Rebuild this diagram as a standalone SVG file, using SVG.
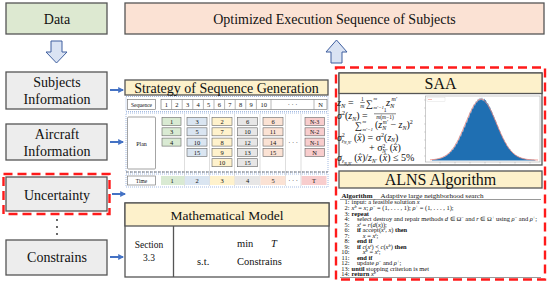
<svg xmlns="http://www.w3.org/2000/svg" width="550" height="287" viewBox="0 0 550 287">
<defs>
<style>
.t{font-family:"Liberation Serif","Times New Roman",serif;fill:#111}
.box{stroke:#555;stroke-width:1.3px}
.cell{stroke:#666;stroke-width:0.6px}
.dot{fill:none;stroke:#8eaadb;stroke-width:0.8px;stroke-dasharray:1px 1px}
.sep{stroke:#c8c8c8;stroke-width:0.6px}
.red{fill:none;stroke:#ff1a1a;stroke-width:2.4px;stroke-dasharray:9px 5px}
.hol{fill:#dae3f3;stroke:#3f5f9f;stroke-width:1px}
.ba{stroke:#4472c4;stroke-width:2px}
.c{text-anchor:middle}
.i{font-style:italic}
.m{font-family:"Liberation Serif","DejaVu Serif",serif;fill:#111}
.al{font-family:"Liberation Serif","Times New Roman",serif;fill:#111;font-size:6.1px}
.sp{font-size:4.2px}
</style>
<marker id="ah" viewBox="0 0 10 10" refX="8" refY="5" markerWidth="3" markerHeight="3" orient="auto"><path d="M0,0 L10,5 L0,10 z" fill="#4472c4"/></marker>
</defs>
<rect width="550" height="287" fill="#fff"/>

<!-- left column -->
<g id="data"><rect class="box" x="6" y="3" width="101" height="31" fill="#dde9d1"/><text class="t c" x="57" y="24" font-size="14">Data</text></g>
<g id="arrow-down"><path class="hol" d="M51,41 H62 V52 H67 L56.5,63 L46,52 H51 Z"/></g>
<g id="subjects"><rect class="box" x="6" y="72" width="101" height="37" fill="#ededed"/><text class="t c" x="57" y="87" font-size="14">Subjects</text><text class="t c" x="57" y="104" font-size="14">Information</text></g>
<g id="aircraft"><rect class="box" x="6" y="124" width="101" height="36" fill="#ededed"/><text class="t c" x="57" y="139" font-size="14">Aircraft</text><text class="t c" x="57" y="156" font-size="14">Information</text></g>
<g id="uncertainty"><rect class="box" x="6" y="177" width="101" height="34" fill="#ededed"/><rect class="red" x="3.5" y="174" width="106" height="40"/><text class="t c" x="57" y="200" font-size="14">Uncertainty</text></g>
<g id="dots"><circle cx="57" cy="220" r="0.9" fill="#222"/><circle cx="57" cy="227" r="0.9" fill="#222"/><circle cx="57" cy="234" r="0.9" fill="#222"/></g>
<g id="constrains"><rect class="box" x="6" y="240" width="101" height="35" fill="#ededed"/><text class="t c" x="57" y="262" font-size="14">Constrains</text></g>

<!-- top -->
<g id="output"><rect class="box" x="125" y="3" width="419" height="31" fill="#fbe2d4"/><text class="t c" x="334.5" y="24" font-size="14">Optimized Execution Sequence of Subjects</text></g>
<g id="arrow-up"><path class="hol" d="M331,63 H342 V52 H347 L336.5,40 L326,52 H331 Z"/></g>

<!-- connectors -->
<g id="connectors">
<line class="ba" x1="110" y1="90" x2="123" y2="90" marker-end="url(#ah)"/>
<line class="ba" x1="110" y1="142" x2="123" y2="142" marker-end="url(#ah)"/>
<line class="ba" x1="112" y1="194" x2="125" y2="194" marker-end="url(#ah)"/>
<line class="ba" x1="110" y1="257" x2="123" y2="257" marker-end="url(#ah)"/>
</g>

<!-- strategy -->
<g id="strategy">
<rect class="box" x="125" y="80" width="203" height="15" fill="#fdf1cb"/>
<text class="t c" x="226.5" y="92.5" font-size="14">Strategy of Sequence Generation</text>
<rect class="dot" x="126" y="96.5" width="202" height="15"/>
<rect class="dot" x="126" y="113" width="202" height="59"/>
<rect class="dot" x="126" y="174" width="202" height="13"/>
<rect class="cell" x="127.5" y="99.5" width="28" height="10" fill="#fff"/>
<text class="t c" x="141.5" y="107" font-size="5.5">Sequence</text>
<rect class="cell" x="161" y="99.5" width="166" height="10" fill="#fff"/>
<g stroke="#888" stroke-width="0.6">
<line x1="171.6" y1="99.5" x2="171.6" y2="109.5"/><line x1="182.2" y1="99.5" x2="182.2" y2="109.5"/><line x1="192.8" y1="99.5" x2="192.8" y2="109.5"/><line x1="203.4" y1="99.5" x2="203.4" y2="109.5"/><line x1="214" y1="99.5" x2="214" y2="109.5"/><line x1="224.6" y1="99.5" x2="224.6" y2="109.5"/><line x1="235.2" y1="99.5" x2="235.2" y2="109.5"/><line x1="245.8" y1="99.5" x2="245.8" y2="109.5"/><line x1="256.4" y1="99.5" x2="256.4" y2="109.5"/><line x1="271" y1="99.5" x2="271" y2="109.5"/><line x1="314" y1="99.5" x2="314" y2="109.5"/>
</g>
<g class="t c" font-size="6.5">
<text x="166.3" y="107">1</text><text x="176.9" y="107">2</text><text x="187.5" y="107">3</text><text x="198.1" y="107">4</text><text x="208.7" y="107">5</text><text x="219.3" y="107">6</text><text x="229.9" y="107">7</text><text x="240.5" y="107">8</text><text x="251.1" y="107">9</text><text x="263.7" y="107">10</text><text x="292.5" y="107">· · ·</text><text x="320.5" y="107">N</text>
</g>
<!-- separators -->
<g class="sep"><line x1="184.5" y1="114" x2="184.5" y2="186"/><line x1="209.5" y1="114" x2="209.5" y2="186"/><line x1="234.5" y1="114" x2="234.5" y2="186"/><line x1="260" y1="114" x2="260" y2="186"/><line x1="285.5" y1="114" x2="285.5" y2="186"/><line x1="301" y1="114" x2="301" y2="186"/></g>
<rect class="cell" x="127.5" y="117" width="28" height="52" rx="1" fill="#fff"/>
<text class="t c" x="141.5" y="145.5" font-size="6">Plan</text>
<!-- plan cells -->
<g class="cell" fill="#d9ead3"><rect x="162" y="117.5" width="19" height="8"/><rect x="162" y="127.8" width="19" height="8"/><rect x="162" y="138.1" width="19" height="8"/></g>
<g class="cell" fill="#dae5f1"><rect x="187" y="117.5" width="20" height="8"/><rect x="187" y="127.8" width="20" height="8"/><rect x="187" y="138.1" width="20" height="8"/><rect x="187" y="148.4" width="20" height="8"/></g>
<g class="cell" fill="#fff2cc"><rect x="212" y="117.5" width="20" height="8"/><rect x="212" y="127.8" width="20" height="8"/><rect x="212" y="138.1" width="20" height="8"/><rect x="212" y="148.4" width="20" height="8"/><rect x="212" y="158.7" width="20" height="8"/></g>
<g class="cell" fill="#e7e6e6"><rect x="237.5" y="117.5" width="20" height="8"/><rect x="237.5" y="127.8" width="20" height="8"/><rect x="237.5" y="138.1" width="20" height="8"/><rect x="237.5" y="148.4" width="20" height="8"/><rect x="237.5" y="158.7" width="20" height="8"/></g>
<g class="cell" fill="#fbe2d4"><rect x="263" y="117.5" width="20" height="8"/><rect x="263" y="127.8" width="20" height="8"/><rect x="263" y="138.1" width="20" height="8"/><rect x="263" y="148.4" width="20" height="8"/></g>
<g class="cell" fill="#f8cdcd"><rect x="305" y="117.5" width="19.5" height="8"/><rect x="305" y="127.8" width="19.5" height="8"/><rect x="305" y="138.1" width="19.5" height="8"/><rect x="305" y="148.4" width="19.5" height="8"/></g>
<g class="t c" font-size="6.5">
<text x="171.5" y="124">1</text><text x="171.5" y="134.3">3</text><text x="171.5" y="144.6">4</text>
<text x="197" y="124">3</text><text x="197" y="134.3">5</text><text x="197" y="144.6">10</text><text x="197" y="154.9">15</text>
<text x="222" y="124">2</text><text x="222" y="134.3">7</text><text x="222" y="144.6">8</text><text x="222" y="154.9">9</text><text x="222" y="165.2">10</text>
<text x="247.5" y="124">6</text><text x="247.5" y="134.3">10</text><text x="247.5" y="144.6">12</text><text x="247.5" y="154.9">13</text><text x="247.5" y="165.2">15</text>
<text x="273" y="124">6</text><text x="273" y="134.3">11</text><text x="273" y="144.6">14</text><text x="273" y="154.9">15</text>
<text x="293" y="145">· · ·</text>
<text x="314.7" y="124" font-size="6">N-3</text><text x="314.7" y="134.3" font-size="6">N-2</text><text x="314.7" y="144.6" font-size="6">N-1</text><text x="314.7" y="154.9">N</text>
</g>
<line x1="126" y1="172" x2="328" y2="172" stroke="#555" stroke-width="0.8" stroke-dasharray="2.5 1.5"/>
<rect class="cell" x="127.5" y="176" width="28" height="9" fill="#fff"/>
<text class="t c" x="141.5" y="183" font-size="5.5">Time</text>
<rect x="161" y="176" width="23.5" height="9" fill="#d9ead3"/>
<rect x="185" y="176" width="24.5" height="9" fill="#dae5f1"/>
<rect x="210" y="176" width="24.5" height="9" fill="#fff2cc"/>
<rect x="235" y="176" width="25" height="9" fill="#e7e6e6"/>
<rect x="260.5" y="176" width="25" height="9" fill="#fbe2d4"/>
<rect x="301.5" y="176" width="25" height="9" fill="#f8cdcd"/>
<g class="t c" font-size="6.5"><text x="172" y="183">1</text><text x="197" y="183">2</text><text x="222" y="183">3</text><text x="247.5" y="183">4</text><text x="273" y="183">5</text><text x="293" y="183">· · ·</text><text x="314" y="183">T</text></g>
</g>

<!-- math model -->
<g id="math-model">
<rect class="box" x="125" y="203" width="204" height="74" fill="#fff"/>
<rect class="box" x="125" y="203" width="204" height="23" fill="#fdf1cb"/>
<line class="box" x1="173.5" y1="226" x2="173.5" y2="277"/>
<text class="t c" x="227" y="219.5" font-size="13.5">Mathematical Model</text>
<text class="t c" x="149" y="248" font-size="9.5">Section</text>
<text class="t c" x="149" y="261" font-size="9.5">3.3</text>
<text class="t" x="237" y="247" font-size="10.5">min</text>
<text class="t i" x="271" y="247" font-size="10.5">T</text>
<text class="t" x="197" y="265" font-size="10.5">s.t.</text>
<text class="t" x="237" y="265" font-size="10.5">Constrains</text>
</g>

<!-- SAA -->
<g id="saa">
<rect class="box" x="339" y="73" width="203" height="92" fill="#fff"/>
<rect class="box" x="339" y="73" width="203" height="20.5" fill="#fdf1cb"/>
<text class="t c" x="440.5" y="89" font-size="16">SAA</text>
<!-- formulas -->
<g class="m">
<text x="337" y="106" font-size="10.5" class="i">z<tspan font-size="6.5" dy="2">N</tspan><tspan font-style="normal" dy="-2" font-size="10"> =</tspan></text>
<text x="361" y="101" font-size="5.5">1</text><line x1="360.3" y1="102.5" x2="364.8" y2="102.5" stroke="#111" stroke-width="0.5"/><text x="360.3" y="107.5" font-size="5.5" class="i">m</text>
<text x="366" y="107" font-size="10">∑</text>
<text x="373.5" y="100" font-size="5" class="i">m</text><text x="373.5" y="108.5" font-size="5" class="i">m′=1</text>
<text x="386" y="106" font-size="10.5" class="i">z<tspan font-size="6.5" dy="2">N</tspan></text>
<text x="391.5" y="100.5" font-size="6" class="i">m′</text>

<text x="337" y="118.5" font-size="10" class="i">σ<tspan font-size="6" dy="-4" font-style="normal">2</tspan><tspan dy="4" font-style="normal">(</tspan>z<tspan font-size="6" dy="2">N</tspan><tspan dy="-2" font-style="normal">) =</tspan></text>
<text x="385" y="112.3" font-size="5.5" text-anchor="middle">1</text><line x1="374" y1="113.8" x2="396" y2="113.8" stroke="#111" stroke-width="0.5"/><text x="385" y="118.8" font-size="5.5" text-anchor="middle" class="i">m<tspan font-style="normal">(</tspan>m<tspan font-style="normal">−1)</tspan></text>

<text x="355" y="129" font-size="10">∑</text>
<text x="362.5" y="123.2" font-size="5" class="i">m</text><text x="362.5" y="130.5" font-size="5" class="i">m′=1</text>
<text x="375" y="128" font-size="10">(<tspan class="i">z</tspan><tspan font-size="6" dy="2" class="i">N</tspan><tspan font-size="5.5" dx="-3.5" dy="-6.5" class="i">m′</tspan><tspan dy="4.5"> − </tspan><tspan class="i">z</tspan><tspan font-size="6" dy="2" class="i">N</tspan><tspan dy="-2">)</tspan><tspan font-size="6" dy="-4">2</tspan></text>

<text x="337" y="140.5" font-size="10" class="i">σ<tspan font-size="5.5" dy="-4" font-style="normal">2</tspan><tspan font-size="5.5" dx="-3" dy="6">ε</tspan><tspan font-size="4.2" dy="1.5">N,N′</tspan><tspan dy="-3.5" font-style="normal"> (</tspan>x̂<tspan font-style="normal">) = σ</tspan><tspan font-size="6" dy="-4" font-style="normal">2</tspan><tspan dy="4" font-style="normal">(</tspan>z<tspan font-size="5.5" dy="1.5">N</tspan><tspan dy="-1.5" font-style="normal">)</tspan></text>
<text x="369" y="151" font-size="10" class="i"><tspan font-style="normal">+ σ</tspan><tspan font-size="5.5" dy="-3.5" font-style="normal">2</tspan><tspan font-size="5.5" dx="-3" dy="5.5">N′</tspan><tspan dy="-2" font-style="normal"> (</tspan>x̂<tspan font-style="normal">)</tspan></text>
<text x="337" y="161" font-size="10" class="i">σ<tspan font-size="5.5" dy="2">ε</tspan><tspan font-size="4.2" dy="1.5">N,N′</tspan><tspan dy="-3.5" font-style="normal"> (</tspan>x̂<tspan font-style="normal">)/</tspan>z<tspan font-size="5.5" dy="2">N′</tspan><tspan dy="-2" font-style="normal"> (</tspan>x̂<tspan font-style="normal">) ≤ 5%</tspan></text>
</g>
<!-- histogram -->
<g id="histogram">
<rect x="425.5" y="96" width="114.5" height="66" fill="#fff" stroke="#999" stroke-width="0.5"/>
<g stroke="#999" stroke-width="0.4">
<line x1="424" y1="100" x2="425.5" y2="100"/><line x1="424" y1="108" x2="425.5" y2="108"/><line x1="424" y1="116" x2="425.5" y2="116"/><line x1="424" y1="124" x2="425.5" y2="124"/><line x1="424" y1="132" x2="425.5" y2="132"/><line x1="424" y1="140" x2="425.5" y2="140"/><line x1="424" y1="148" x2="425.5" y2="148"/><line x1="424" y1="156" x2="425.5" y2="156"/>
<line x1="440" y1="162" x2="440" y2="163.5"/><line x1="455" y1="162" x2="455" y2="163.5"/><line x1="470" y1="162" x2="470" y2="163.5"/><line x1="485" y1="162" x2="485" y2="163.5"/><line x1="500" y1="162" x2="500" y2="163.5"/><line x1="515" y1="162" x2="515" y2="163.5"/><line x1="530" y1="162" x2="530" y2="163.5"/>
</g>
<polygon fill="#1f6fb2" points="432,160.5 432,159.4 433,159.8 434,159.3 435,159.6 436,159.0 437,159.3 438,158.6 439,158.9 440,157.9 441,158.5 442,157.2 443,157.8 444,156.2 445,156.9 446,155.0 447,155.8 448,153.4 449,154.4 450,151.5 451,152.6 452,149.0 453,150.5 454,146.4 455,147.8 456,143.0 457,144.8 458,139.5 459,140.8 460,135.0 461,136.9 462,130.8 463,132.5 464,126.0 465,127.9 466,121.0 467,123.5 468,116.5 469,118.4 470,111.5 471,113.8 472,107.5 473,109.6 474,103.8 475,105.9 476,100.8 477,103.0 478,98.5 479,101.2 480,97.6 481,100.5 482,97.2 483,101.4 484,98.6 485,100.0 486,100.5 487,103.4 488,103.2 489,106.2 490,107.0 491,110.0 492,111.4 493,114.8 494,116.3 495,119.4 496,121.0 497,124.6 498,126.0 499,129.4 500,130.6 501,134.2 502,135.4 503,138.4 504,139.2 505,142.6 506,143.0 507,145.9 508,146.2 509,148.7 510,149.0 511,151.2 512,151.4 513,153.2 514,153.4 515,154.9 516,155.0 517,156.3 518,156.2 519,157.3 520,157.1 521,158.0 522,157.9 523,158.6 524,158.5 525,159.0 526,159.0 527,159.4 528,159.3 529,159.6 530,159.5 532,159.8 534,159.8 536,160.5"/>
<polyline fill="none" stroke="#f08a80" stroke-width="0.8" points="430,159.8 434,159.5 438,158.8 442,157.6 446,155.5 450,152.2 454,147.2 458,140.3 462,131.8 466,122.3 470,112.9 474,105.0 478,100.2 480,99.1 482,99.1 484,100.2 488,105.0 492,112.9 496,122.3 500,131.8 504,140.3 508,147.2 512,152.2 516,155.5 520,157.6 524,158.8 528,159.5 534,159.9 538,160"/>
<rect x="427" y="97.5" width="18" height="4" fill="#fff" stroke="#ccc" stroke-width="0.3"/>
<line x1="428" y1="99.5" x2="432" y2="99.5" stroke="#f08a80" stroke-width="0.6"/>
</g>
</g>

<!-- ALNS -->
<g id="alns">
<rect class="box" x="339" y="171" width="203" height="17" fill="#fdf1cb"/>
<text class="t c" x="440.5" y="185" font-size="16">ALNS Algorithm</text>
<line x1="340" y1="199.5" x2="541" y2="199.5" stroke="#333" stroke-width="0.5"/>
<line x1="340" y1="277.5" x2="541" y2="277.5" stroke="#333" stroke-width="0.5"/>
<text class="t" x="341.5" y="197.5" font-size="7" font-weight="bold" textLength="31" lengthAdjust="spacingAndGlyphs">Algorithm</text>
<text class="t" x="380.5" y="197.5" font-size="7" textLength="103" lengthAdjust="spacingAndGlyphs">Adaptive large neighborhood search</text>
<g transform="translate(341,0) scale(1.06,1) translate(-341,0)">
<g class="al" text-anchor="end">
<text x="349" y="204.5">1:</text><text x="349" y="210">2:</text><text x="349" y="215.6">3:</text><text x="349" y="221.1">4:</text><text x="349" y="226.7">5:</text><text x="349" y="232.2">6:</text><text x="349" y="237.8">7:</text><text x="349" y="243.3">8:</text><text x="349" y="248.9">9:</text><text x="349" y="254.4">10:</text><text x="349" y="260">11:</text><text x="349" y="265.5">12:</text><text x="349" y="271.1">13:</text><text x="349" y="276.4">14:</text>
</g>
<g class="al">
<text x="351" y="204.5">input: a feasible solution <tspan class="i">x</tspan></text>
<text x="351" y="210"><tspan class="i">x</tspan><tspan class="i sp" dy="-2">b</tspan><tspan dy="2"> = </tspan><tspan class="i">x</tspan>; <tspan class="i">ρ</tspan><tspan class="sp" dy="-2">−</tspan><tspan dy="2"> = (1, . . . , 1); </tspan><tspan class="i">ρ</tspan><tspan class="sp" dy="-2">+</tspan><tspan dy="2"> = (1, . . . , 1);</tspan></text>
<text x="351" y="215.6" font-weight="bold">repeat</text>
<text x="356" y="221.1">select destroy and repair methods <tspan class="i">d</tspan> ∈ Ω<tspan class="sp" dy="-2">−</tspan><tspan dy="2"> and </tspan><tspan class="i">r</tspan> ∈ Ω<tspan class="sp" dy="-2">+</tspan><tspan dy="2"> using </tspan><tspan class="i">ρ</tspan><tspan class="sp" dy="-2">−</tspan><tspan dy="2"> and </tspan><tspan class="i">ρ</tspan><tspan class="sp" dy="-2">+</tspan><tspan dy="2">;</tspan></text>
<text x="356" y="226.7"><tspan class="i">x</tspan><tspan class="i sp" dy="-2">t</tspan><tspan dy="2"> = </tspan><tspan class="i">r</tspan>(<tspan class="i">d</tspan>(<tspan class="i">x</tspan>));</text>
<text x="356" y="232.2"><tspan font-weight="bold">if</tspan> accept(<tspan class="i">x</tspan><tspan class="i sp" dy="-2">t</tspan><tspan dy="2">, </tspan><tspan class="i">x</tspan>) <tspan font-weight="bold">then</tspan></text>
<text x="361.5" y="237.8"><tspan class="i">x</tspan> = <tspan class="i">x</tspan><tspan class="i sp" dy="-2">t</tspan><tspan dy="2">;</tspan></text>
<text x="356" y="243.3" font-weight="bold">end if</text>
<text x="356" y="248.9"><tspan font-weight="bold">if</tspan> <tspan class="i">c</tspan>(<tspan class="i">x</tspan><tspan class="i sp" dy="-2">t</tspan><tspan dy="2">) &lt; </tspan><tspan class="i">c</tspan>(<tspan class="i">x</tspan><tspan class="i sp" dy="-2">b</tspan><tspan dy="2">) </tspan><tspan font-weight="bold">then</tspan></text>
<text x="361.5" y="254.4"><tspan class="i">x</tspan><tspan class="i sp" dy="-2">b</tspan><tspan dy="2"> = </tspan><tspan class="i">x</tspan><tspan class="i sp" dy="-2">t</tspan><tspan dy="2">;</tspan></text>
<text x="356" y="260" font-weight="bold">end if</text>
<text x="356" y="265.5">update <tspan class="i">ρ</tspan><tspan class="sp" dy="-2">−</tspan><tspan dy="2"> and </tspan><tspan class="i">ρ</tspan><tspan class="sp" dy="-2">+</tspan><tspan dy="2">;</tspan></text>
<text x="351" y="271.1"><tspan font-weight="bold">until</tspan> stopping criterion is met</text>
<text x="351" y="276.4"><tspan font-weight="bold">return</tspan> <tspan class="i">x</tspan><tspan class="i sp" dy="-2">b</tspan></text>
</g>
</g>
</g>

<rect id="highlight" class="red" x="336" y="67.5" width="209" height="212"/>
</svg>
